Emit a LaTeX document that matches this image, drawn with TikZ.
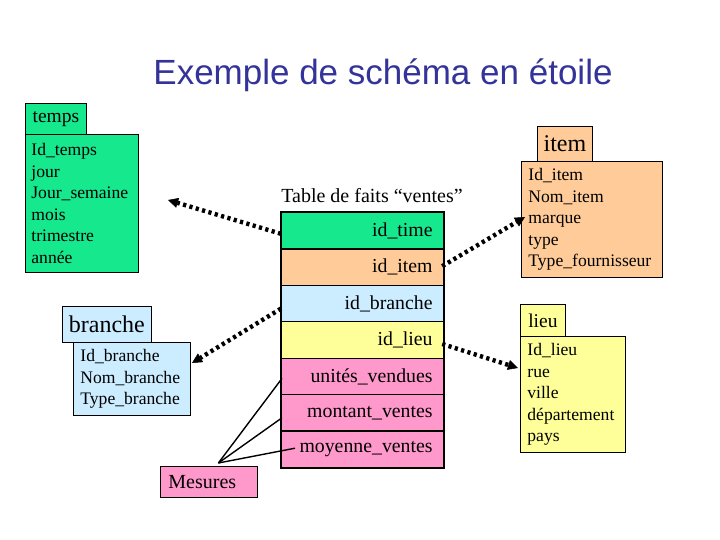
\documentclass[tikz,border=0pt]{standalone}
\usepackage{fontspec}
\setmainfont{Liberation Serif}
\newfontfamily\titlefont{Liberation Sans}
\usetikzlibrary{arrows.meta,positioning,calc}
\hyphenpenalty=10000
\exhyphenpenalty=10000
\definecolor{tgreen}{RGB}{22,232,142}
\definecolor{tpeach}{RGB}{255,204,153}
\definecolor{tblue}{RGB}{204,236,255}
\definecolor{tyellow}{RGB}{255,255,153}
\definecolor{tpink}{RGB}{255,153,204}
\definecolor{ttitle}{RGB}{51,51,153}
\tikzset{
  tabbox/.style={draw=black, line width=0.8pt, anchor=north west, inner sep=0pt, align=center},
  bodybox/.style={draw=black, line width=0.8pt, anchor=north west, inner ysep=0pt, align=left,
     font=\fontsize{17.6}{21.6}\selectfont},
  factrow/.style={draw=black, line width=1.2pt, anchor=north west, minimum height=36.4pt,
     inner ysep=0pt, inner xsep=11pt, text width=140pt, align=right,
     font=\fontsize{19.8}{22}\selectfont},
  dotconn/.style={line width=4.4pt, dash pattern=on 3.2pt off 3.4pt,
     -{Triangle[length=10pt,width=10pt,line width=0.5pt]}},
  mesline/.style={line width=1.4pt, black}
}
\begin{document}
\begin{tikzpicture}[x=1pt,y=-1pt]
\useasboundingbox (0,0) rectangle (720,540);
\fill[white] (0,0) rectangle (720,540);

% title
\node[font=\titlefont\fontsize{35}{40}\selectfont, text=ttitle] (title) at (383,75) {Exemple de schéma en étoile};

% temps
\node[tabbox, fill=tgreen, minimum width=61pt, minimum height=31pt, font=\fontsize{19.5}{22}\selectfont] (tempstab) at (25,103) {temps};
\node[bodybox, fill=tgreen, minimum height=138pt, inner xsep=6pt, text width=101pt] (temps) at (25,134)
  {Id\_temps\\jour\\Jour\_semaine\\mois\\trimestre\\année};

% item
\node[tabbox, fill=tpeach, minimum width=55pt, minimum height=35pt, font=\fontsize{24}{26}\selectfont] (itemtab) at (537,126) {item};
\node[bodybox, fill=tpeach, minimum height=116pt, inner xsep=7pt, text width=127pt] (item) at (521,161)
  {Id\_item\\Nom\_item\\marque\\type\\Type\_fournisseur};

% lieu
\node[tabbox, fill=tyellow, minimum width=45pt, minimum height=32pt, font=\fontsize{19.5}{22}\selectfont] (lieutab) at (520,304) {lieu};
\node[bodybox, fill=tyellow, minimum height=116pt, inner xsep=7pt, text width=91pt] (lieu) at (520,336)
  {Id\_lieu\\rue\\ville\\département\\pays};

% branche
\node[tabbox, fill=tblue, minimum width=89pt, minimum height=36pt, font=\fontsize{24}{26}\selectfont] (branchetab) at (62,306) {branche};
\node[bodybox, fill=tblue, minimum height=73pt, inner xsep=7pt, text width=103pt] (branche) at (73,342)
  {Id\_branche\\Nom\_branche\\Type\_branche};

% fact table
\node[font=\fontsize{20}{22}\selectfont] (facttitle) at (372,196) {Table de faits “ventes”};
\node[factrow, fill=tgreen] (ftime) at (281,212) {id\_time\hspace*{12pt}};
\node[factrow, fill=tpeach] (fitem) at (281,248.4) {id\_item\hspace*{12pt}};
\node[factrow, fill=tblue] (fbranche) at (281,284.8) {id\_branche};
\node[factrow, fill=tyellow] (flieu) at (281,321.2) {id\_lieu\hspace*{12pt}};
\node[factrow, fill=tpink] (funites) at (281,357.6) {unités\_vendues};
\node[factrow, fill=tpink] (fmontant) at (281,394) {montant\_ventes};
\node[factrow, fill=tpink] (fmoyenne) at (281,430.4) {moyenne\_ventes};
\draw[line width=1.6pt] (ftime.north west) rectangle (fmoyenne.south east);

% Mesures
\node[draw=black, line width=0.8pt, fill=tpink, anchor=north west, minimum height=31pt,
  inner ysep=0pt, inner xsep=8pt, text width=81pt, align=left, font=\fontsize{20}{22}\selectfont] (mesures) at (160,466) {Mesures};

% connectors from Mesures
\coordinate (mtop) at ($(mesures.north)+(9.5,-3)$);
\draw[mesline] (mtop) -- ($(funites.west)+(1,2)$);
\draw[mesline] (mtop) -- ($(fmontant.west)+(1,5)$);
\draw[mesline] (mtop) -- ($(fmoyenne.west)+(14,-1)$);

% dotted arrows
\coordinate (ctemps) at (168,200);
\coordinate (citem) at (525,217);
\coordinate (cbranche) at (192,363);
\coordinate (clieu) at (518,368);
\draw[dotconn] ($(ftime.west)+(0,3)$) -- (ctemps);
\draw[dotconn] ($(fitem.east)+(-2,-1)$) -- (citem);
\draw[dotconn] ($(fbranche.west)+(0,5)$) -- (cbranche);
\draw[dotconn] ($(flieu.east)+(-2,4)$) -- (clieu);
\end{tikzpicture}
\end{document}
